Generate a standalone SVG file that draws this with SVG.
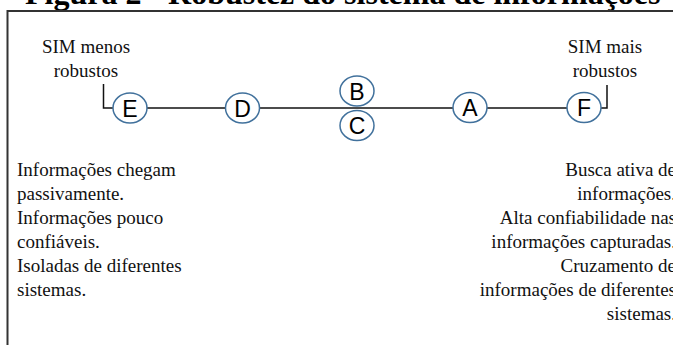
<svg xmlns="http://www.w3.org/2000/svg" width="673" height="345" viewBox="0 0 673 345">
<style>
.t{font-family:"Liberation Serif","Times New Roman",serif;font-size:19px;fill:#111}
.title{font-family:"Liberation Serif","Times New Roman",serif;font-size:32px;font-weight:bold;fill:#000}
.n ellipse{fill:#fff;stroke:#41719C;stroke-width:1.5}
.n text{font-family:"Liberation Sans",Arial,sans-serif;font-size:23px;fill:#000;text-anchor:middle}
.c{stroke:#111;stroke-width:1.5;fill:none}
.frame{stroke:#333;stroke-width:2;fill:none}
</style>
<rect width="673" height="345" fill="#fff"/>
<text class="title" x="25" y="4">Figura 2 - Robustez do sistema de informações</text>
<path class="frame" d="M7.5,345 V11 H673"/>
<g id="connectors">
<path class="c" d="M103.5,84 V108 H113"/>
<path class="c" d="M146,108 H226"/>
<path class="c" d="M259,108 H454"/>
<path class="c" d="M486,108 H568"/>
<path class="c" d="M601,108 H607 V85"/>
</g>
<g id="label-menos">
<text class="t" x="86" y="53" text-anchor="middle">SIM menos</text>
<text class="t" x="86" y="77" text-anchor="middle">robustos</text>
</g>
<g id="label-mais">
<text class="t" x="605" y="53" text-anchor="middle">SIM mais</text>
<text class="t" x="605" y="77" text-anchor="middle">robustos</text>
</g>
<g id="node-E" class="n"><ellipse cx="130" cy="108" rx="17" ry="15"/><text x="130" y="116.5">E</text></g>
<g id="node-D" class="n"><ellipse cx="242.5" cy="108" rx="17" ry="15"/><text x="242.5" y="116.5">D</text></g>
<g id="node-B" class="n"><ellipse cx="357" cy="91" rx="17" ry="15"/><text x="357" y="99.5">B</text></g>
<g id="node-C" class="n"><ellipse cx="357" cy="125.5" rx="17" ry="15"/><text x="357" y="134">C</text></g>
<g id="node-A" class="n"><ellipse cx="470" cy="107.5" rx="17" ry="15"/><text x="470" y="116">A</text></g>
<g id="node-F" class="n"><ellipse cx="584" cy="107.5" rx="17" ry="15"/><text x="584" y="116">F</text></g>
<g id="text-left">
<text class="t" x="17" y="176">Informações chegam</text>
<text class="t" x="17" y="200">passivamente.</text>
<text class="t" x="17" y="224">Informações pouco</text>
<text class="t" x="17" y="248">confiáveis.</text>
<text class="t" x="17" y="272">Isoladas de diferentes</text>
<text class="t" x="17" y="296">sistemas.</text>
</g>
<g id="text-right" text-anchor="end">
<text class="t" x="676" y="176">Busca ativa de</text>
<text class="t" x="676" y="200">informações.</text>
<text class="t" x="676" y="224">Alta confiabilidade nas</text>
<text class="t" x="676" y="248">informações capturadas.</text>
<text class="t" x="676" y="272">Cruzamento de</text>
<text class="t" x="676" y="296">informações de diferentes</text>
<text class="t" x="676" y="320">sistemas.</text>
</g>
</svg>
